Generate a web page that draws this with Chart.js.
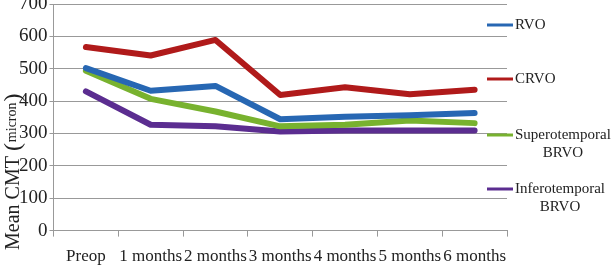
<!DOCTYPE html>
<html>
<head>
<meta charset="utf-8">
<script src="https://cdn.jsdelivr.net/npm/chart.js@4.4.1/dist/chart.umd.min.js"></script>
<style>
  html, body { margin: 0; padding: 0; background: #fff; }
  #wrap { width: 614px; height: 268px; }
</style>
</head>
<body>
<div id="wrap"><canvas id="myChart" width="614" height="268"></canvas></div>
<script>
// values (micron)
var periodos = ['Preop', '1 months', '2 months', '3 months', '4 months', '5 months', '6 months']
var rvo = [502, 432, 447, 344, 352, 356, 363]
var crvo = [567, 541, 589, 419, 443, 421, 435]
var superoBrvo = [494, 407, 368, 322, 327, 340, 332]
var inferoBrvo = [430, 327, 322, 306, 309, 309, 309]
var nombres = [['RVO'], ['CRVO'], ['Superotemporal', 'BRVO'], ['Inferotemporal', 'BRVO']]
var ticksY = [0, 100, 200, 300, 400, 500, 600, 700]

var serif = "'Liberation Serif', 'Times New Roman', serif"

// legend on the right + y title with the small "(micron)"
var extras = {
  id: 'extras',
  afterDraw: function (chart) {
    var ctx = chart.ctx
    ctx.save()
    // y title
    ctx.translate(14, 250)
    ctx.rotate(-Math.PI / 2)
    ctx.fillStyle = '#222'
    ctx.textBaseline = 'middle'
    ctx.textAlign = 'left'
    ctx.font = '20px ' + serif
    ctx.fillText('Mean CMT ', 0, 0)
    var w = ctx.measureText('Mean CMT ').width
    ctx.font = '24px ' + serif
    ctx.fillText('(', w, 0)
    var w2 = ctx.measureText('(').width
    ctx.font = '14px ' + serif
    ctx.fillText('micron', w + w2 + 1, -2)
    var w3 = ctx.measureText('micron').width
    ctx.font = '24px ' + serif
    ctx.fillText(')', w + w2 + w3 + 2, 0)
    ctx.restore()

    // legend
    var ys = [25, 79, 135, 189]
    ctx.save()
    ctx.font = '15px ' + serif
    ctx.textBaseline = 'middle'
    chart.data.datasets.forEach(function (ds, i) {
      ctx.strokeStyle = ds.borderColor
      ctx.lineWidth = 3
      ctx.beginPath()
      ctx.moveTo(487, ys[i])
      ctx.lineTo(513, ys[i])
      ctx.stroke()
      ctx.fillStyle = '#222'
      var lineas = nombres[i]
      var ancho = ctx.measureText(lineas[0]).width
      ctx.textAlign = 'left'
      ctx.fillText(lineas[0], 515, ys[i])
      if (lineas.length > 1) {
        ctx.textAlign = 'center'
        ctx.fillText(lineas[1], 515 + ancho / 2, ys[i] + 18)
      }
    })
    ctx.restore()
  }
}

new Chart('myChart', {
  type: 'line',
  data: {
    labels: periodos,
    datasets: [{
      label: nombres[0].join(' '),
      data: rvo,
      borderColor: '#2767b3'
    }, {
      label: nombres[1].join(' '),
      data: crvo,
      borderColor: '#b01a1a'
    }, {
      label: nombres[2].join(' '),
      data: superoBrvo,
      borderColor: '#78b22f'
    }, {
      label: nombres[3].join(' '),
      data: inferoBrvo,
      borderColor: '#5b2d90'
    }]
  },
  options: {
    responsive: false,
    animation: false,
    devicePixelRatio: 1,
    layout: { padding: { left: 17, right: 107, top: 4, bottom: -9 } },
    elements: {
      line: { borderWidth: 6, tension: 0, fill: false, borderCapStyle: 'round', borderJoinStyle: 'round' },
      point: { radius: 0 }
    },
    plugins: {
      legend: { display: false },
      tooltip: { enabled: false }
    },
    scales: {
      x: {
        offset: true,
        grid: { offset: true, drawOnChartArea: false, drawTicks: true, tickLength: 6, color: '#999' },
        border: { color: '#999' },
        ticks: { color: '#222', font: { family: serif, size: 17 }, maxRotation: 0, autoSkip: false, padding: 10 }
      },
      y: {
        min: 0,
        max: 700,
        afterBuildTicks: function (scale) {
          scale.ticks = ticksY.map(function (v) { return { value: v } })
        },
        afterFit: function (scale) {
          scale.paddingTop = 0
        },
        grid: { color: '#999', tickLength: 4 },
        border: { color: '#999' },
        ticks: { color: '#222', font: { family: serif, size: 19 }, padding: 2 }
      }
    }
  },
  plugins: [extras]
});
</script>
</body>
</html>
